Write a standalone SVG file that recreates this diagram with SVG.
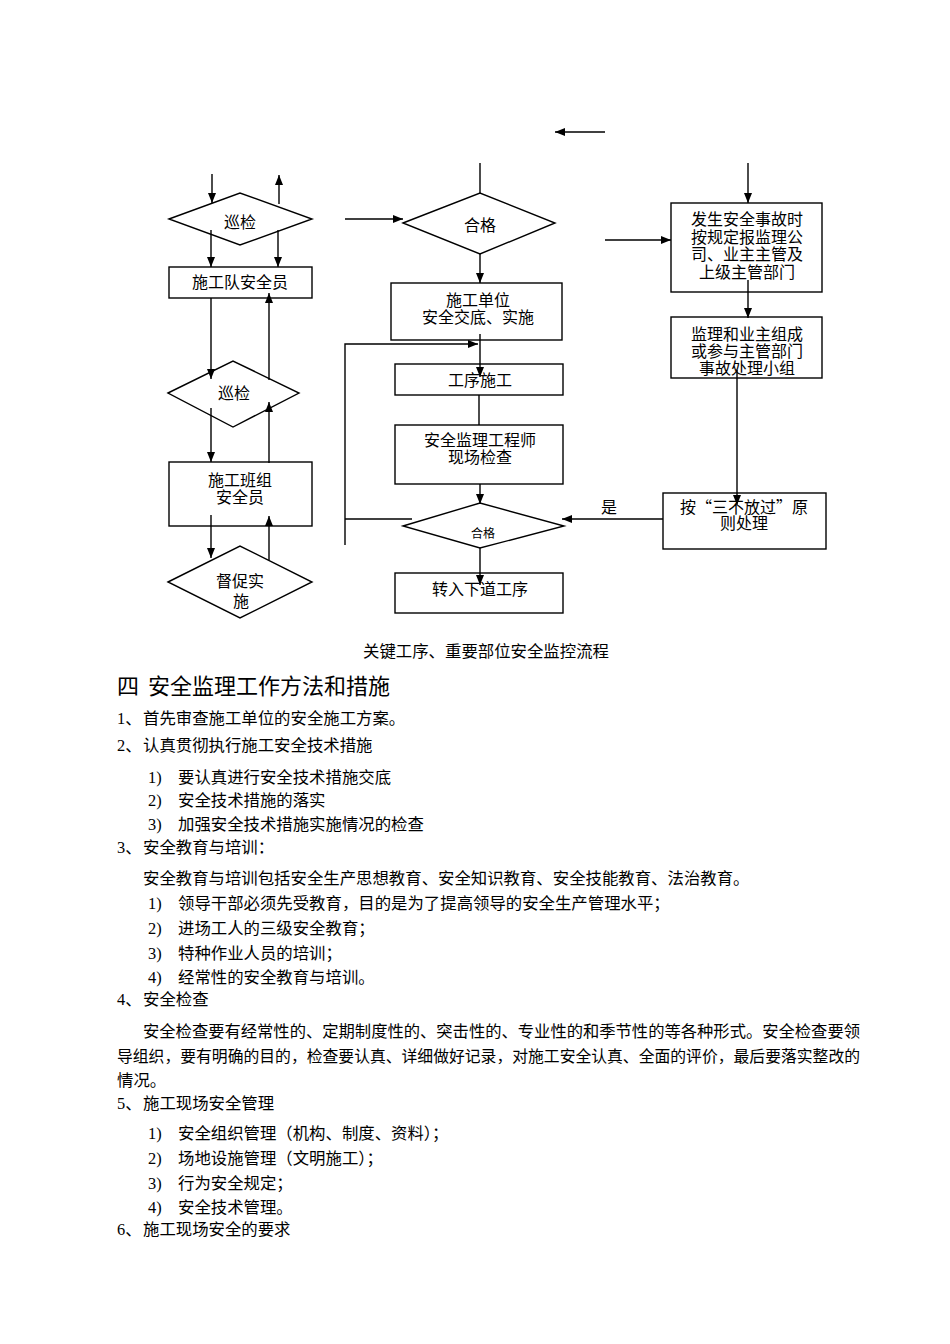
<svg xmlns="http://www.w3.org/2000/svg" width="950" height="1344" viewBox="0 0 950 1344">
<style>
.n{fill:#fff;stroke:#000;stroke-width:1.4}
.c{fill:none;stroke:#000;stroke-width:1.4}
.a{marker-end:url(#ah)}
text{font-family:"Liberation Serif","Noto Sans CJK SC",serif;fill:#000}
.t{font-size:16px;text-anchor:middle}
.s{font-size:12px;text-anchor:middle}
.b{font-size:16.4px}
.h{font-family:"Liberation Sans","Noto Sans CJK SC",sans-serif;font-size:22px}
.cj{font-family:"Noto Sans CJK SC",sans-serif}
</style>
<defs>
<marker id="ah" viewBox="0 0 10 8" refX="10" refY="4" markerWidth="10" markerHeight="8" markerUnits="userSpaceOnUse" orient="auto"><path d="M0,0 L10,4 L0,8 z" fill="#000"/></marker>
</defs>
<rect width="950" height="1344" fill="#fff"/>

<g id="d1"><polygon class="n" points="169,219 240,193 312,219 240,245"/><text class="t" x="240" y="228">巡检</text></g>
<g id="b1"><rect class="n" x="169" y="267" width="143" height="31"/><text class="t" x="240" y="288">施工队安全员</text></g>
<g id="d2"><polygon class="n" points="168,393 233,361 299,393 233,427"/><text class="t" x="234" y="399">巡检</text></g>
<g id="b2"><rect class="n" x="169" y="462" width="143" height="64"/><text class="t" x="240" y="486">施工班组</text><text class="t" x="240" y="503">安全员</text></g>
<g id="d3"><polygon class="n" points="168,582 240,546 312,582 240,618"/><text class="t" x="240" y="587">督促实</text><text class="t" x="241" y="607">施</text></g>

<g id="d4"><polygon class="n" points="403,223 480,193 555,223 480,254"/><text class="t" x="480" y="231">合格</text></g>
<g id="b3"><rect class="n" x="391" y="283" width="171" height="57"/><text class="t" x="478" y="306">施工单位</text><text class="t" x="478" y="323">安全交底、实施</text></g>
<g id="b4"><rect class="n" x="395" y="364" width="168" height="31"/><text class="t" x="480" y="386">工序施工</text></g>
<g id="b5"><rect class="n" x="395" y="425" width="168" height="59"/><text class="t" x="480" y="446">安全监理工程师</text><text class="t" x="480" y="463">现场检查</text></g>
<g id="d5"><polygon class="n" points="403,526 480,503 564,526 480,548"/><text class="s" x="483" y="538">合格</text></g>
<g id="b6"><rect class="n" x="395" y="573" width="168" height="40"/><text class="t" x="480" y="595">转入下道工序</text></g>

<g id="b7"><rect class="n" x="671" y="203" width="151" height="89"/><text class="t" x="747" y="225">发生安全事故时</text><text class="t" x="747" y="242.5">按规定报监理公</text><text class="t" x="747" y="260">司、业主主管及</text><text class="t" x="747" y="277.5">上级主管部门</text></g>
<g id="b8"><rect class="n" x="671" y="317" width="151" height="61"/><text class="t" x="747" y="340">监理和业主组成</text><text class="t" x="747" y="357">或参与主管部门</text><text class="t" x="747" y="374">事故处理小组</text></g>
<g id="b9"><rect class="n" x="663" y="493" width="163" height="56"/><text class="t cj" x="744" y="513">按“三不放过”原</text><text class="t" x="744" y="529">则处理</text></g>

<g id="connectors">
<line class="c a" x1="212" y1="174" x2="212" y2="203"/>
<line class="c a" x1="279" y1="204" x2="279" y2="175"/>
<line class="c a" x1="211" y1="230" x2="211" y2="267"/>
<line class="c a" x1="278" y1="230" x2="278" y2="267"/>
<line class="c a" x1="211" y1="298" x2="211" y2="379"/>
<line class="c a" x1="269" y1="380" x2="269" y2="293"/>
<line class="c a" x1="211" y1="408" x2="211" y2="462"/>
<line class="c a" x1="269" y1="463" x2="269" y2="402"/>
<line class="c a" x1="211" y1="515" x2="211" y2="558"/>
<line class="c a" x1="269" y1="560" x2="269" y2="516"/>
<line class="c a" x1="345" y1="219" x2="403" y2="219"/>
<line class="c a" x1="605" y1="132" x2="555" y2="132"/>
<line class="c" x1="480" y1="163" x2="480" y2="193"/>
<line class="c a" x1="480" y1="254" x2="480" y2="283"/>
<line class="c a" x1="480" y1="334" x2="480" y2="377"/>
<polyline class="c a" points="345,545 345,344 478,344"/>
<line class="c" x1="345" y1="519" x2="412" y2="519"/>
<line class="c" x1="479" y1="395" x2="479" y2="425"/>
<line class="c a" x1="480" y1="484" x2="480" y2="504"/>
<line class="c a" x1="480" y1="548" x2="480" y2="585"/>
<line class="c a" x1="605" y1="240" x2="671" y2="240"/>
<line class="c a" x1="748" y1="163" x2="748" y2="203"/>
<line class="c a" x1="748" y1="280" x2="748" y2="318"/>
<line class="c a" x1="737" y1="370" x2="737" y2="505"/>
<line class="c a" x1="663" y1="519" x2="562" y2="519"/>
<text class="t" x="609" y="513">是</text>
</g>

<g id="body">
<text class="b" x="486" y="657" text-anchor="middle">关键工序、重要部位安全监控流程</text>
<text class="h" x="117" y="694">四</text><text class="h" x="148" y="694">安全监理工作方法和措施</text>
<text class="b" x="117" y="724">1、</text><text class="b" x="143" y="724">首先审查施工单位的安全施工方案。</text>
<text class="b" x="117" y="751">2、</text><text class="b" x="143" y="751">认真贯彻执行施工安全技术措施</text>
<text class="b" x="148" y="783">1)</text><text class="b" x="178" y="783">要认真进行安全技术措施交底</text>
<text class="b" x="148" y="806">2)</text><text class="b" x="178" y="806">安全技术措施的落实</text>
<text class="b" x="148" y="830">3)</text><text class="b" x="178" y="830">加强安全技术措施实施情况的检查</text>
<text class="b" x="117" y="853">3、</text><text class="b" x="143" y="853">安全教育与培训：</text>
<text class="b" x="143" y="884">安全教育与培训包括安全生产思想教育、安全知识教育、安全技能教育、法治教育。</text>
<text class="b" x="148" y="909">1)</text><text class="b" x="178" y="909">领导干部必须先受教育，目的是为了提高领导的安全生产管理水平；</text>
<text class="b" x="148" y="934">2)</text><text class="b" x="178" y="934">进场工人的三级安全教育；</text>
<text class="b" x="148" y="959">3)</text><text class="b" x="178" y="959">特种作业人员的培训；</text>
<text class="b" x="148" y="983">4)</text><text class="b" x="178" y="983">经常性的安全教育与培训。</text>
<text class="b" x="117" y="1005">4、</text><text class="b" x="143" y="1005">安全检查</text>
<text class="b" x="143" y="1037" textLength="717" lengthAdjust="spacingAndGlyphs">安全检查要有经常性的、定期制度性的、突击性的、专业性的和季节性的等各种形式。安全检查要领</text>
<text class="b" x="117" y="1062" textLength="743" lengthAdjust="spacingAndGlyphs">导组织，要有明确的目的，检查要认真、详细做好记录，对施工安全认真、全面的评价，最后要落实整改的</text>
<text class="b" x="117" y="1086">情况。</text>
<text class="b" x="117" y="1109">5、</text><text class="b" x="143" y="1109">施工现场安全管理</text>
<text class="b" x="148" y="1139">1)</text><text class="b" x="178" y="1139">安全组织管理（机构、制度、资料）；</text>
<text class="b" x="148" y="1164">2)</text><text class="b" x="178" y="1164">场地设施管理（文明施工）；</text>
<text class="b" x="148" y="1189">3)</text><text class="b" x="178" y="1189">行为安全规定；</text>
<text class="b" x="148" y="1213">4)</text><text class="b" x="178" y="1213">安全技术管理。</text>
<text class="b" x="117" y="1235">6、</text><text class="b" x="143" y="1235">施工现场安全的要求</text>
</g>
</svg>
